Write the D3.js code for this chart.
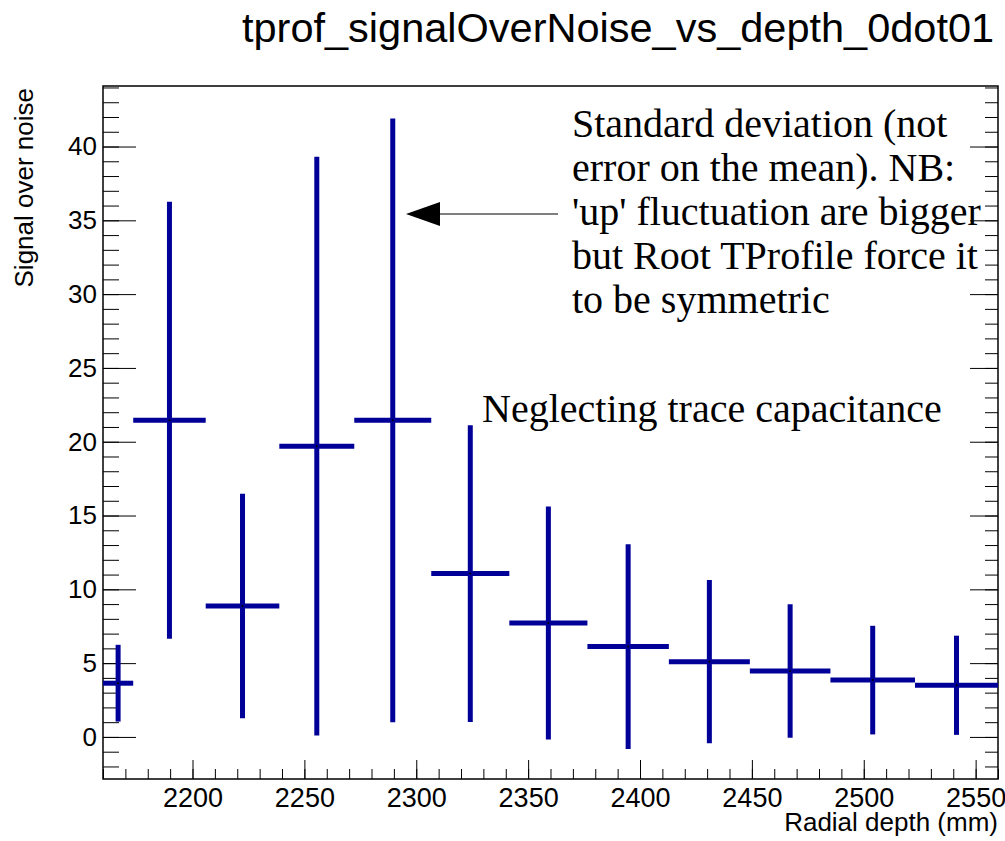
<!DOCTYPE html>
<html>
<head>
<meta charset="utf-8">
<script src="https://cdn.jsdelivr.net/npm/d3@7"></script>
<style>
    body { margin: 0; background: #fff; }
</style>
</head>
<body>
<div id="chart"></div>
<script>
// Bin edges of the profile (mm)
let binEdges = [2160, 2173.5, 2205.9, 2238.8, 2272.3, 2306.7, 2341.6, 2376.5, 2412.9, 2449.1, 2485.1, 2522.9, 2560];
// Mean signal over noise per bin
let means = [3.64, 21.45, 8.87, 19.7, 21.45, 11.07, 7.72, 6.12, 5.1, 4.47, 3.85, 3.5];
// Standard deviation per bin
let spreads = [2.6, 14.8, 7.6, 19.6, 20.45, 10.05, 7.9, 6.93, 5.53, 4.52, 3.68, 3.36];

let yTicks = [0, 5, 10, 15, 20, 25, 30, 35, 40];
let xTicks = [2200, 2250, 2300, 2350, 2400, 2450, 2500, 2550];

let titleText = "tprof_signalOverNoise_vs_depth_0dot01";
let xTitle = "Radial depth (mm)";
let yTitle = "Signal over noise";
let noteLines = [
    "Standard deviation (not",
    "error on the mean). NB:",
    "'up' fluctuation are bigger",
    "but Root TProfile force it",
    "to be symmetric"
];
let note2 = "Neglecting trace capacitance";

// Build the points
let points = means.map((m, i) => ({
    lo: binEdges[i],
    hi: binEdges[i + 1],
    x: (binEdges[i] + binEdges[i + 1]) / 2,
    mean: m,
    err: spreads[i]
}));

let fullWidth = 1005, fullHeight = 841;
let frame = { left: 103, right: 998, top: 86, bottom: 779 };

let svg = d3.select("#chart")
    .append("svg")
    .attr("width", fullWidth)
    .attr("height", fullHeight)
    .style("font-family", "'Liberation Sans', Arial, sans-serif");

svg.append("rect")
    .attr("width", fullWidth)
    .attr("height", fullHeight)
    .attr("fill", "#fff");

let x = d3.scaleLinear()
    .domain([2160, 2560])
    .range([frame.left, frame.right]);

let y = d3.scaleLinear()
    .domain([-2.85, 44.1])
    .range([frame.bottom, frame.top]);

// Title
svg.append("text")
    .attr("x", 242)
    .attr("y", 42)
    .style("font-size", "41.5px")
    .style("fill", "#000")
    .text(titleText);

// Minor and major ticks on the left
let yMinor = d3.range(-2, 45, 1);
svg.append("g")
    .attr("transform", `translate(${frame.left},0)`)
    .call(d3.axisLeft(y).tickValues(yMinor).tickSize(-16).tickFormat(""))
    .call(g => g.select(".domain").remove());

svg.append("g")
    .attr("class", "yaxis")
    .attr("transform", `translate(${frame.left},0)`)
    .call(d3.axisLeft(y).tickValues(yTicks).tickSize(-33).tickPadding(6).tickFormat(d3.format("d")))
    .call(g => g.select(".domain").remove())
    .selectAll("text")
    .style("font-size", "26px")
    .style("font-family", "'Liberation Sans', Arial, sans-serif")
    .style("fill", "#000");

// Ticks on the right side
svg.append("g")
    .attr("transform", `translate(${frame.right},0)`)
    .call(d3.axisRight(y).tickValues(yMinor).tickSize(-13).tickFormat(""))
    .call(g => g.select(".domain").remove());

svg.append("g")
    .attr("transform", `translate(${frame.right},0)`)
    .call(d3.axisRight(y).tickValues(yTicks).tickSize(-28).tickFormat(""))
    .call(g => g.select(".domain").remove());

// Bottom axis
let xMinor = d3.range(2160, 2561, 10);
svg.append("g")
    .attr("transform", `translate(0,${frame.bottom})`)
    .call(d3.axisBottom(x).tickValues(xMinor).tickSize(-10).tickFormat(""))
    .call(g => g.select(".domain").remove());

svg.append("g")
    .attr("transform", `translate(0,${frame.bottom})`)
    .call(d3.axisBottom(x).tickValues(xTicks).tickSize(-19).tickPadding(9).tickFormat(d3.format("d")))
    .call(g => g.select(".domain").remove())
    .selectAll("text")
    .style("font-size", "27px")
    .style("font-family", "'Liberation Sans', Arial, sans-serif")
    .style("fill", "#000");

svg.selectAll(".tick line").style("stroke", "#000");

// Frame
svg.append("rect")
    .attr("x", frame.left)
    .attr("y", frame.top)
    .attr("width", frame.right - frame.left)
    .attr("height", frame.bottom - frame.top)
    .attr("fill", "none")
    .attr("stroke", "#000")
    .attr("stroke-width", 1.5);

// Axis titles
svg.append("text")
    .attr("x", frame.right)
    .attr("y", 831)
    .attr("text-anchor", "end")
    .style("font-size", "26px")
    .text(xTitle);

svg.append("text")
    .attr("transform", `translate(33,88) rotate(-90)`)
    .attr("text-anchor", "end")
    .style("font-size", "26px")
    .text(yTitle);

// Profile points
let plot = svg.append("g");
let blue = "#000099";

plot.selectAll(".xerr")
    .data(points)
    .enter()
    .append("line")
    .attr("class", "xerr")
    .attr("x1", d => x(d.lo))
    .attr("x2", d => x(d.hi))
    .attr("y1", d => y(d.mean))
    .attr("y2", d => y(d.mean))
    .attr("stroke", blue)
    .attr("stroke-width", 5);

plot.selectAll(".yerr")
    .data(points)
    .enter()
    .append("line")
    .attr("class", "yerr")
    .attr("x1", d => x(d.x))
    .attr("x2", d => x(d.x))
    .attr("y1", d => y(d.mean - d.err))
    .attr("y2", d => y(d.mean + d.err))
    .attr("stroke", blue)
    .attr("stroke-width", 5);

plot.selectAll(".dot")
    .data(points)
    .enter()
    .append("circle")
    .attr("class", "dot")
    .attr("cx", d => x(d.x))
    .attr("cy", d => y(d.mean))
    .attr("r", 1)
    .attr("fill", "#000");

// Annotations
let notes = svg.append("g")
    .style("font-family", "'Liberation Serif', 'Times New Roman', serif")
    .style("font-size", "40px")
    .style("fill", "#000");

noteLines.forEach((line, i) => {
    notes.append("text")
        .attr("x", 572)
        .attr("y", 137 + i * 44)
        .text(line);
});

notes.append("text")
    .attr("x", 482)
    .attr("y", 422)
    .text(note2);

// Arrow pointing at the big error bar
svg.append("line")
    .attr("x1", 558)
    .attr("x2", 438)
    .attr("y1", 214)
    .attr("y2", 214)
    .attr("stroke", "#000")
    .attr("stroke-width", 1);

svg.append("path")
    .attr("d", "M406,214 L440,202 L440,226 Z")
    .attr("fill", "#000");
</script>
</body>
</html>
